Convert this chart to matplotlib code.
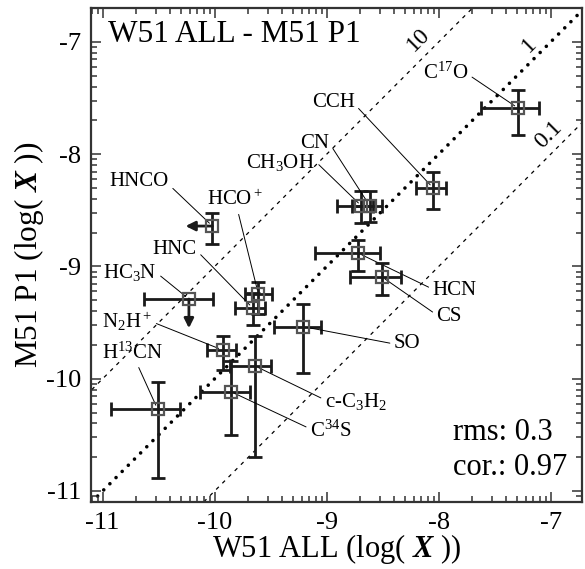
import numpy as np
import matplotlib
matplotlib.use('Agg')
import matplotlib.pyplot as plt
from matplotlib.ticker import FixedLocator

plt.rcParams['font.family'] = 'Liberation Serif'
plt.rcParams['mathtext.fontset'] = 'custom'
plt.rcParams['mathtext.rm'] = 'Liberation Serif'
plt.rcParams['mathtext.it'] = 'Liberation Serif:italic'
plt.rcParams['mathtext.bf'] = 'Liberation Serif:bold'
plt.rcParams['mathtext.bfit'] = 'Liberation Serif:italic:bold'
plt.rcParams['axes.unicode_minus'] = False

# abundances, log(X)
molecules = ['C$^{17}$O', 'CCH', 'CH$_3$OH', 'CN', 'HCN', 'CS', 'SO', 'N$_2$H$^+$',
             'c-C$_3$H$_2$', 'C$^{34}$S', 'H$^{13}$CN', 'HCO$^+$', 'HNC', 'HNCO', 'HC$_3$N']
w51_all = [-7.29, -8.05, -8.69, -8.615, -8.72, -8.51, -9.21, -9.93,
           -9.64, -9.855, -10.51, -9.61, -9.66, -10.02, -10.23]
m51_p1 = [-7.59, -8.30, -8.46, -8.46, -8.88, -9.09, -9.536, -9.744,
          -9.886, -10.115, -10.27, -9.245, -9.37, -8.64, -9.29]
x_err_lo = [0.33, 0.155, 0.22, 0.16, 0.38, 0.28, 0.26, 0.137,
            0.22, 0.277, 0.42, 0.12, 0.16, 0.0, 0.40]
x_err_hi = [0.19, 0.113, 0.10, 0.11, 0.20, 0.17, 0.155, 0.12,
            0.14, 0.17, 0.20, 0.12, 0.11, 0.0, 0.217]
y_err_lo = [0.24, 0.19, 0.155, 0.14, 0.163, 0.163, 0.416, 0.178,
            0.81, 0.386, 0.61, 0.18, 0.155, 0.16, 0.0]
y_err_hi = [0.16, 0.14, 0.13, 0.13, 0.113, 0.125, 0.20, 0.128,
            0.27, 0.27, 0.244, 0.105, 0.13, 0.12, 0.0]
# upper limits: 'x' -> arrow to the left, 'y' -> arrow downwards
upper_limit = ['', '', '', '', '', '', '', '', '', '', '', '', '', 'x', 'y']

ratios = [10, 1, 0.1]
rms = 0.3
cor = 0.97

# label placement (text centre, where the leader line leaves the text)
label_xy = [(-7.94, -7.28), (-8.94, -7.54), (-9.41, -8.07), (-9.106, -7.90),
            (-7.857, -9.21), (-7.906, -9.447), (-8.28, -9.69), (-10.78, -9.494),
            (-8.74, -10.207), (-8.963, -10.465), (-10.73, -9.77), (-9.82, -8.41),
            (-10.355, -8.853), (-10.672, -8.247), (-10.756, -9.058)]
label_rel = [(1, 0.45), (1, 0.4), (1, 0.55), (1, 0.5),
             (0, 0.55), (0, 0.6), (0, 0.5), (1, 0.5),
             (0, 0.6), (0, 0.6), (0.55, 0.1), (0.55, 0.0),
             (1, 0.45), (1, 0.35), (1, 0.5)]
ratio_label_xy = [(-8.178, -6.982), (-7.187, -7.027), (-7.019, -7.83)]

fig = plt.figure(figsize=(5.85, 5.69), dpi=100)
ax = fig.add_axes([0.1556, 0.1178, 0.8393, 0.8682])
xlim = (-11.104, -6.72)
ylim = (-11.098, -6.697)
ax.set_xlim(xlim)
ax.set_ylim(ylim)

# constant-ratio lines
xx = np.array([-12, -6])
for r in ratios:
    if r == 1:
        ax.plot(xx, xx, color='k', lw=2.6, linestyle=(0, (0.01, 2.4)),
                dash_capstyle='round', zorder=1)
    else:
        ax.plot(xx, xx + np.log10(r), color='k', lw=0.9, linestyle=(0, (3, 4)), zorder=1)
for r, (tx, ty) in zip(ratios, ratio_label_xy):
    ax.text(tx, ty, '%g' % r, rotation=45, fontsize=17, ha='center', va='center',
            rotation_mode='anchor')

# points with asymmetric error bars
for i, name in enumerate(molecules):
    x, y = w51_all[i], m51_p1[i]
    xe = [[x_err_lo[i]], [x_err_hi[i]]] if upper_limit[i] != 'x' else None
    ye = [[y_err_lo[i]], [y_err_hi[i]]] if upper_limit[i] != 'y' else None
    ax.errorbar(x, y, xerr=xe, yerr=ye, fmt='none', ecolor='#1a1a1a',
                elinewidth=2.0, capsize=5, capthick=2.0, zorder=3)
    if upper_limit[i] == 'x':
        ax.annotate('', xy=(x - 0.24, y), xytext=(x, y),
                    arrowprops=dict(arrowstyle='-|>', lw=2, color='#1a1a1a',
                                    mutation_scale=14, shrinkA=0, shrinkB=0), zorder=3)
    if upper_limit[i] == 'y':
        ax.annotate('', xy=(x, y - 0.26), xytext=(x, y),
                    arrowprops=dict(arrowstyle='-|>', lw=2, color='#1a1a1a',
                                    mutation_scale=14, shrinkA=0, shrinkB=0), zorder=3)
    ax.plot(x, y, 's', ms=8, mfc='none', mec='#555555', mew=1.6, zorder=4)
    ax.annotate(name, xy=(x, y), xytext=label_xy[i], fontsize=15,
                ha='center', va='center',
                arrowprops=dict(arrowstyle='-', lw=0.7, color='k',
                                relpos=label_rel[i], shrinkA=1, shrinkB=3))

ax.text(0.035, 0.947, 'W51 ALL - M51 P1', transform=ax.transAxes, fontsize=22.5,
        ha='left', va='center')
ax.text(0.737, 0.14, 'rms: %g' % rms, transform=ax.transAxes, fontsize=22,
        ha='left', va='center')
ax.text(0.737, 0.069, 'cor.: %g' % cor, transform=ax.transAxes, fontsize=22,
        ha='left', va='center')

ax.set_xlabel('W51 ALL (log( $\\mathbfit{X}$ ))', fontsize=22, labelpad=-1.5)
ax.set_ylabel('M51 P1 (log( $\\mathbfit{X}$ ))', fontsize=22.5, labelpad=0)

# ticks: majors on integers, minors at log steps inside each decade
majors = np.arange(-11, -6)
minors = [d + np.log10(k) for d in range(-12, -6) for k in range(2, 10)]
for axis in (ax.xaxis, ax.yaxis):
    axis.set_major_locator(FixedLocator(majors))
    axis.set_minor_locator(FixedLocator(minors))
ax.tick_params(which='both', direction='in', top=True, right=True,
               color='#333333', width=1.1, labelsize=19, pad=7)
ax.tick_params(which='major', length=7)
ax.tick_params(which='minor', length=4.3)
for s in ax.spines.values():
    s.set_linewidth(1.6)
    s.set_color('#333333')

fig.savefig('out.png', dpi=100)
